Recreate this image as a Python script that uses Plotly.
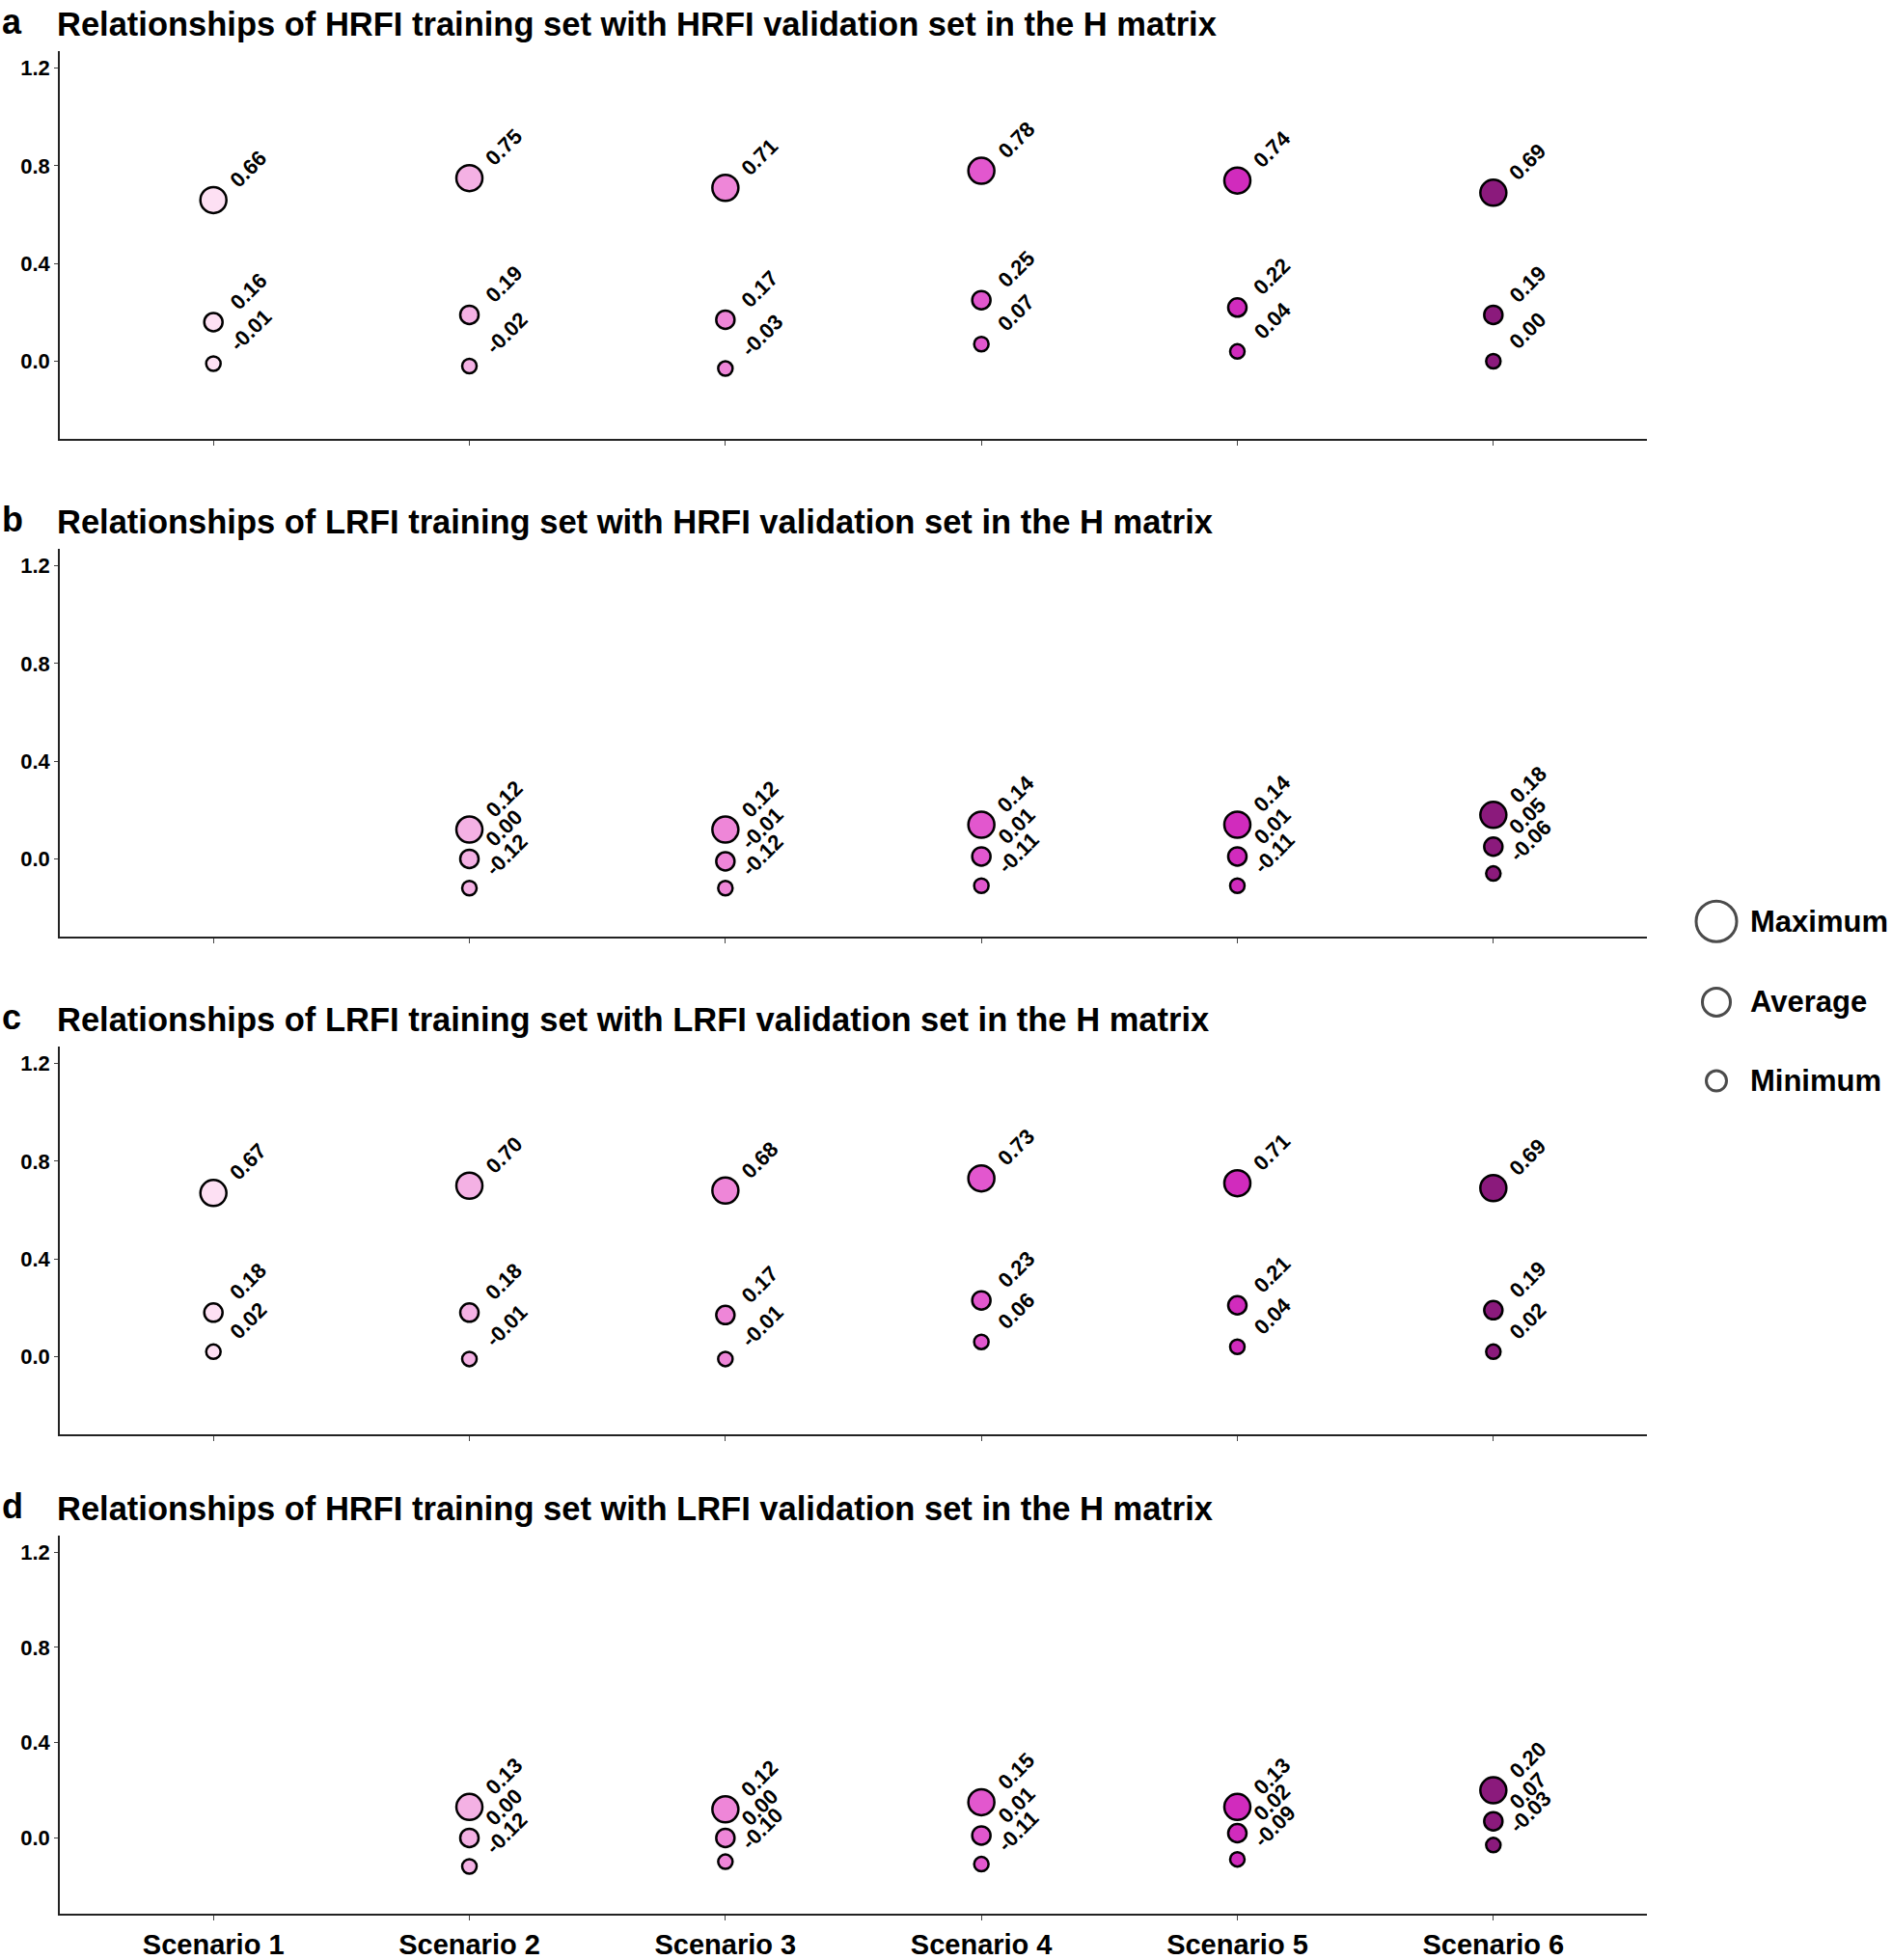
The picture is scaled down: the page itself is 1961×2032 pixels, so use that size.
import plotly.graph_objects as go

W, H = 1961, 2032

scenarios = ["Scenario 1", "Scenario 2", "Scenario 3", "Scenario 4", "Scenario 5", "Scenario 6"]
colors = ["#FDE0F3", "#F4B1E4", "#EE86D8", "#E257CE", "#D12BBD", "#8B1A7C"]

titles = [
    "Relationships of HRFI training set with HRFI validation set in the H matrix",
    "Relationships of LRFI training set with HRFI validation set in the H matrix",
    "Relationships of LRFI training set with LRFI validation set in the H matrix",
    "Relationships of HRFI training set with LRFI validation set in the H matrix",
]
letters = ["a", "b", "c", "d"]

# values per panel (None = not shown)
a_max = [0.66, 0.75, 0.71, 0.78, 0.74, 0.69]
a_avg = [0.16, 0.19, 0.17, 0.25, 0.22, 0.19]
a_min = [-0.01, -0.02, -0.03, 0.07, 0.04, 0.00]

b_max = [None, 0.12, 0.12, 0.14, 0.14, 0.18]
b_avg = [None, 0.00, -0.01, 0.01, 0.01, 0.05]
b_min = [None, -0.12, -0.12, -0.11, -0.11, -0.06]

c_max = [0.67, 0.70, 0.68, 0.73, 0.71, 0.69]
c_avg = [0.18, 0.18, 0.17, 0.23, 0.21, 0.19]
c_min = [0.02, -0.01, -0.01, 0.06, 0.04, 0.02]

d_max = [None, 0.13, 0.12, 0.15, 0.13, 0.20]
d_avg = [None, 0.00, 0.00, 0.01, 0.02, 0.07]
d_min = [None, -0.12, -0.10, -0.11, -0.09, -0.03]

panels = [(a_max, a_avg, a_min), (b_max, b_avg, b_min), (c_max, c_avg, c_min), (d_max, d_avg, d_min)]

stat_names = ["Maximum", "Average", "Minimum"]
stat_sizes = [27, 19, 15]
legend_sizes = [42, 29, 21]

yticks = [0.0, 0.4, 0.8, 1.2]
yticktext = ["0.0", "0.4", "0.8", "1.2"]

FONT = "Liberation Sans, Arial, sans-serif"

# layout in pixels (all content kept inside the 1961x2032 page)
x_left, x_right = 62, 1707
panel_tops = [53, 571, 1089, 1598]
panel_hs = [404, 404, 404, 394]

fig = go.Figure()
annotations = []

def py(p):
    return 1 - p / H

for i, (vmax, vavg, vmin) in enumerate(panels):
    n = "" if i == 0 else str(i + 1)
    xa, ya = "x" + n, "y" + n
    for vals, size in zip((vmax, vavg, vmin), stat_sizes):
        xs = [s for s, v in zip(scenarios, vals) if v is not None]
        ys = [v for v in vals if v is not None]
        cs = [c for c, v in zip(colors, vals) if v is not None]
        fig.add_trace(go.Scatter(
            x=xs, y=ys, mode="markers", xaxis=xa, yaxis=ya, showlegend=False,
            marker=dict(size=size, color=cs, line=dict(color="black", width=2.5)),
            hoverinfo="skip", cliponaxis=False,
        ))
        for s, v in zip(xs, ys):
            annotations.append(dict(
                x=s, y=v, xref=xa, yref=ya, text="%.2f" % v, showarrow=False,
                textangle=-45, xanchor="left", yanchor="bottom", xshift=9, yshift=5,
                font=dict(family=FONT, size=22, color="black", weight="bold"),
            ))
    top, bot = panel_tops[i], panel_tops[i] + panel_hs[i]
    xkey = "xaxis" + n
    ykey = "yaxis" + n
    fig.layout[xkey] = dict(
        domain=[x_left / W, x_right / W], anchor=ya,
        type="category", categoryorder="array", categoryarray=scenarios,
        range=[-0.6, 5.6], showline=True, linecolor="#222", linewidth=1.5,
        ticks="outside", ticklen=5, tickwidth=1.2, tickcolor="#444",
        showticklabels=(i == 3), showgrid=False, zeroline=False,
        tickfont=dict(family=FONT, size=29, color="black", weight="bold"),
    )
    fig.layout[ykey] = dict(
        domain=[py(bot), py(top)], anchor=xa, range=[-0.319, 1.271],
        tickvals=yticks, ticktext=yticktext, showline=True, linecolor="#222", linewidth=1.5,
        ticks="outside", ticklen=4, tickwidth=1.2, tickcolor="#444",
        showgrid=False, zeroline=False,
        tickfont=dict(family=FONT, size=22, color="black", weight="bold"),
    )
    annotations.append(dict(
        x=57 / W, y=py(top - 28), xref="paper", yref="paper", text=titles[i],
        showarrow=False, xanchor="left", yanchor="middle",
        font=dict(family=FONT, size=34.5, color="black", weight="bold"),
    ))
    annotations.append(dict(
        x=0, y=py(top - 53), xref="paper", yref="paper", text=letters[i],
        showarrow=False, xanchor="left", yanchor="top",
        font=dict(family=FONT, size=36, color="black", weight="bold"),
    ))

# legend keys drawn on an overlay axis spanning the page
leg_x = [1779 / W, 1779 / W, 1779 / W]
leg_y = [py(959), py(1043), py(1125)]
fig.add_trace(go.Scatter(
    x=leg_x, y=leg_y, mode="markers", xaxis="x5", yaxis="y5", showlegend=False,
    marker=dict(size=legend_sizes, color="white", line=dict(color="black", width=3)),
    hoverinfo="skip", cliponaxis=False,
))
for lx, ly, name in zip(leg_x, leg_y, stat_names):
    annotations.append(dict(
        x=lx + 33 / W, y=ly, xref="x5", yref="y5", text=name, showarrow=False,
        xanchor="left", yanchor="middle",
        font=dict(family=FONT, size=31, color="black", weight="bold"),
    ))
fig.layout["xaxis5"] = dict(domain=[0, 1], range=[0, 1], visible=False, anchor="y5")
fig.layout["yaxis5"] = dict(domain=[0, 1], range=[0, 1], visible=False, anchor="x5")

fig.update_layout(
    width=W, height=H, margin=dict(l=0, r=0, t=0, b=0),
    paper_bgcolor="white", plot_bgcolor="rgba(0,0,0,0)",
    annotations=annotations, showlegend=False,
    font=dict(family=FONT, color="black"),
)

clip_js = (
    "document.documentElement.style.overflow='hidden';"
    "document.body.style.margin='0';document.body.style.overflow='hidden';"
    "document.querySelectorAll('.plotly-graph-div').forEach(function(d){d.style.overflow='hidden';});"
)
fig.write_html("out.html", config={"displayModeBar": False}, post_script=clip_js)
